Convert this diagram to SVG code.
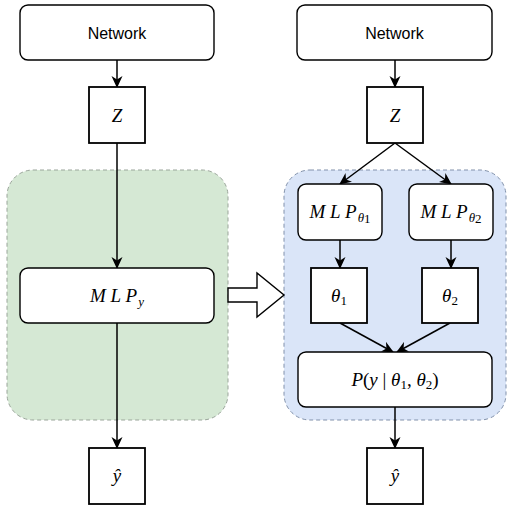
<svg xmlns="http://www.w3.org/2000/svg" width="512" height="508" viewBox="0 0 512 508">
<defs>
<marker id="ah" viewBox="0 0 12 12" refX="11" refY="6" markerWidth="12" markerHeight="12" markerUnits="userSpaceOnUse" orient="auto">
<path d="M0,0.5 L12,6 L0,11.5 L3.5,6 Z" fill="#000"/>
</marker>
<style>
.box{fill:#fff;stroke:#000;stroke-width:1.4}
.sq{fill:#fff;stroke:#000;stroke-width:1.8}
.lbl{font-family:"Liberation Sans",Arial,sans-serif;font-size:16px;fill:#000;text-anchor:middle}
.m{font-family:"Liberation Serif","Times New Roman",serif;font-style:italic;font-size:19px;fill:#000;text-anchor:middle}
.up{font-style:normal}
.sub{font-size:13px}
.edge{stroke:#000;stroke-width:1.5;fill:none;marker-end:url(#ah)}
</style>
</defs>
<g id="groups">
<rect id="green-group" x="7" y="170" width="221" height="250" rx="26" fill="#d5e8d4" stroke="#9aa59a" stroke-width="1" stroke-dasharray="4 3"/>
<rect id="blue-group" x="284" y="170" width="222" height="250" rx="26" fill="#dae5f8" stroke="#8191ab" stroke-width="1" stroke-dasharray="4 3"/>
</g>
<g id="hollow-arrow">
<path d="M228,288 L257,288 L257,273 L284,295 L257,317 L257,302 L228,302 Z" fill="#fff" stroke="#000" stroke-width="1.4"/>
</g>
<g id="connectors">
<path class="edge" d="M117,60 L117,87"/>
<path class="edge" d="M117,143 L117,268"/>
<path class="edge" d="M117,323 L117,448"/>
<path class="edge" d="M395,60 L395,87"/>
<path class="edge" d="M395,143 L340,184"/>
<path class="edge" d="M395,143 L451,184"/>
<path class="edge" d="M340,240 L340,268"/>
<path class="edge" d="M451,240 L451,268"/>
<path class="edge" d="M340,323 L393,352"/>
<path class="edge" d="M450,323 L397,352"/>
<path class="edge" d="M395,407 L395,448"/>
</g>
<g id="network-left"><rect class="box" x="20" y="5" width="194" height="55" rx="8"/><text class="lbl" x="117" y="39">Network</text></g>
<g id="z-left"><rect class="sq" x="89" y="87" width="56" height="56"/><text class="m" x="117" y="122">Z</text></g>
<g id="mlp-y"><rect class="box" x="20" y="268" width="194" height="55" rx="8"/><text class="m" x="117" y="302">M L P<tspan class="sub" dx="1" dy="4">y</tspan></text></g>
<g id="yhat-left"><rect class="sq" x="89" y="448" width="56" height="56"/><text class="m" x="117" y="482" font-size="21">ŷ</text></g>
<g id="network-right"><rect class="box" x="297" y="5" width="195" height="55" rx="8"/><text class="lbl" x="394.5" y="39">Network</text></g>
<g id="z-right"><rect class="sq" x="367" y="87" width="56" height="56"/><text class="m" x="395" y="122">Z</text></g>
<g id="mlp-theta1"><rect class="box" x="298" y="184" width="84" height="56" rx="8"/><text class="m" x="340" y="218">M L P<tspan class="sub" dx="1" dy="4">θ</tspan><tspan class="sub up" font-size="9" dy="1">1</tspan></text></g>
<g id="mlp-theta2"><rect class="box" x="409" y="184" width="84" height="56" rx="8"/><text class="m" x="451" y="218">M L P<tspan class="sub" dx="1" dy="4">θ</tspan><tspan class="sub up" font-size="9" dy="1">2</tspan></text></g>
<g id="theta1"><rect class="sq" x="311" y="268" width="56" height="55"/><text class="m" x="339" y="302">θ<tspan class="up" font-size="13" dy="3">1</tspan></text></g>
<g id="theta2"><rect class="sq" x="422" y="268" width="56" height="55"/><text class="m" x="450" y="302">θ<tspan class="up" font-size="13" dy="3">2</tspan></text></g>
<g id="p-node"><rect class="box" x="298" y="352" width="194" height="55" rx="8"/><text class="m" x="395" y="386">P<tspan class="up">(</tspan>y <tspan class="up">|</tspan> θ<tspan class="up" font-size="13" dy="3">1</tspan><tspan class="up" dy="-3">, </tspan>θ<tspan class="up" font-size="13" dy="3">2</tspan><tspan class="up" dy="-3">)</tspan></text></g>
<g id="yhat-right"><rect class="sq" x="367" y="448" width="56" height="56"/><text class="m" x="395" y="482" font-size="21">ŷ</text></g>
</svg>
